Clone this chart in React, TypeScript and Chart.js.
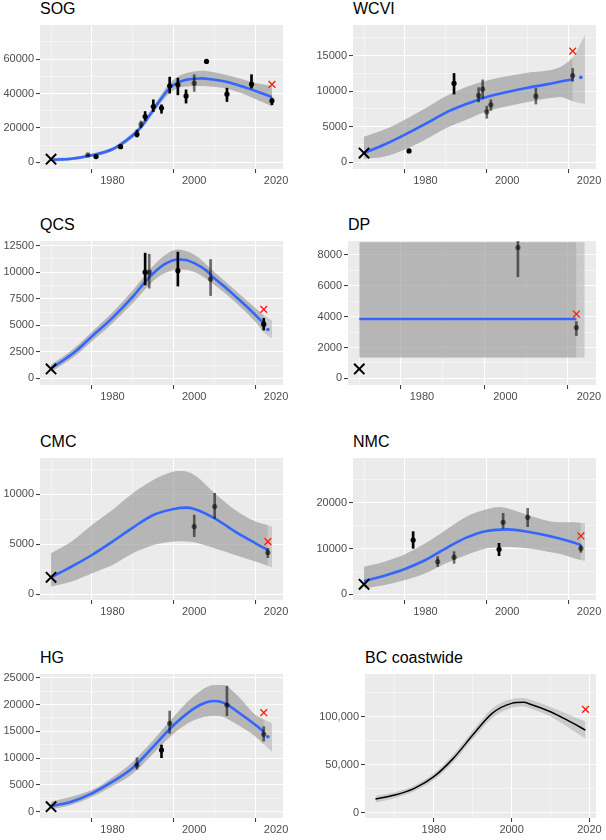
import React, { useEffect, useRef } from 'react';
import { Chart, registerables } from 'chart.js';

Chart.register(...registerables);

const FONT = '"Liberation Sans", Arial, Helvetica, sans-serif';
Chart.defaults.font.family = FONT;

const X_MIN = 1962.3;
const X_MAX = 2021.7;
const BLUE = '#3366FF';
const RIBBON = 'rgba(153,153,153,0.4)';
const DARK = '#000000';
const GREY = 'rgba(0,0,0,0.55)';

// ---------------- SOG ----------------
const sogFitYears = [1965, 1970, 1975, 1980, 1983, 1986, 1988, 1990, 1992, 1994, 1996, 1998, 2000, 2002, 2004, 2007, 2010, 2013, 2016, 2019];
const sogFit = [1500, 2100, 4100, 7600, 12000, 17900, 23700, 30500, 37300, 43100, 46400, 47900, 48600, 48800, 48300, 47200, 45400, 43100, 40600, 37900];
const sogBandLo = [500, 1200, 3200, 6600, 10700, 16300, 21900, 28500, 35000, 40300, 43200, 44000, 44400, 44400, 44000, 43300, 41400, 38800, 35600, 32600];
const sogBandHi = [2500, 3000, 5000, 8600, 13300, 19500, 25500, 32500, 39600, 45900, 49700, 51700, 52800, 53200, 52600, 51200, 49400, 47400, 45600, 44300];
const sogObsYears = [1974, 1976, 1982, 1986, 1987, 1988, 1990, 1992, 1994, 1996, 1998, 2000, 2003, 2008, 2014, 2019];
const sogObs = [4300, 3300, 9100, 16300, 22000, 26600, 32400, 31500, 44500, 45000, 38600, 46000, 58600, 39600, 45400, 35700];
const sogObsLo = [3800, 2900, 8500, 14700, 20000, 24300, 29500, 28500, 40200, 39200, 34400, 41200, 58200, 35300, 43100, 33400];
const sogObsHi = [4800, 3800, 10000, 18700, 24000, 29500, 36300, 33400, 49500, 48900, 42100, 50900, 59000, 43100, 50900, 37300];
const sogObsDark = [false, true, true, true, false, true, true, true, true, true, true, false, true, true, true, true];
const sogStart = [1965, 1800];
const sogRecent = [2019, 45300];

// ---------------- WCVI ----------------
const wcviFitYears = [1965, 1970, 1975, 1980, 1985, 1990, 1995, 2000, 2005, 2010, 2016];
const wcviFit = [1300, 2500, 3900, 5400, 7000, 8200, 9200, 9900, 10500, 11000, 11700];
const wcviBandYears = [1965, 1970, 1975, 1980, 1985, 1990, 1995, 2000, 2005, 2010, 2013, 2016, 2019];
const wcviBandLo = [500, 800, 1800, 3200, 4800, 6000, 7200, 7900, 8500, 9000, 9200, 8600, 8200];
const wcviBandHi = [3600, 4600, 6000, 7600, 9300, 10600, 11500, 12100, 12600, 12900, 13400, 14700, 17900];
const wcviObsYears = [1976, 1987, 1993, 1994, 1995, 1996, 2007, 2016];
const wcviObs = [1600, 11100, 9400, 10300, 7100, 8100, 9300, 12200];
const wcviObsLo = [1500, 9600, 8500, 9000, 6200, 7300, 8200, 11400];
const wcviObsHi = [1700, 12500, 10500, 11600, 7900, 8800, 10400, 13200];
const wcviObsDark = [true, true, false, false, false, false, false, false];
const wcviStart = [1965, 1300];
const wcviRecent = [2016, 15650];
const wcviDot = [2018, 11950];

// ---------------- QCS ----------------
const qcsFitYears = [1965, 1968, 1971, 1975, 1980, 1985, 1988, 1990, 1993, 1996, 1998, 2000, 2003, 2005, 2008, 2010, 2013, 2015, 2017];
const qcsFit = [940, 1700, 2550, 3950, 5700, 7700, 9100, 9900, 10800, 11200, 11150, 10850, 10150, 9400, 8450, 7750, 6700, 5950, 5150];
const qcsBandYears = [1965, 1968, 1971, 1975, 1980, 1985, 1990, 1993, 1996, 2000, 2005, 2010, 2015, 2017, 2019];
const qcsBandLo = [600, 1350, 2150, 3500, 5200, 7100, 9200, 9950, 10250, 10050, 8800, 7200, 5300, 4350, 3750];
const qcsBandHi = [1300, 2050, 2950, 4400, 6200, 8300, 10600, 11650, 12150, 11650, 10000, 8300, 6600, 5950, 5450];
const qcsObsYears = [1988, 1989, 1996, 2004, 2017];
const qcsObs = [10000, 10000, 10150, 9350, 5100];
const qcsObsLo = [8800, 8500, 8700, 7800, 4550];
const qcsObsHi = [11800, 11700, 11900, 11200, 5650];
const qcsObsDark = [true, false, true, false, true];
const qcsStart = [1965, 880];
const qcsRecent = [2017, 6500];
const qcsDot = [2018, 4600];

// ---------------- DP ----------------
const dpFitYears = [1965, 2017];
const dpFit = [3850, 3850];
const dpBandYears = [1965, 2017, 2019];
const dpBandLo = [1350, 1350, 1350];
const dpBandHi = [8820, 8820, 8820];
const dpObsYears = [2003, 2017];
const dpObs = [8480, 3290];
const dpObsLo = [6590, 2770];
const dpObsHi = [8950, 3680];
const dpObsDark = [false, false];
const dpStart = [1965, 605];
const dpRecent = [2017, 4170];

// ---------------- CMC ----------------
const cmcFitYears = [1965, 1970, 1975, 1980, 1985, 1990, 1995, 1998, 2000, 2005, 2010, 2015, 2018];
const cmcFit = [1700, 2770, 3930, 5270, 6670, 7930, 8530, 8670, 8530, 7600, 6270, 5100, 4430];
const cmcBandYears = [1965, 1970, 1975, 1980, 1985, 1990, 1995, 1997, 2000, 2005, 2010, 2015, 2018, 2019];
const cmcBandLo = [770, 1270, 2100, 2930, 4100, 4930, 5270, 5300, 5200, 4600, 3930, 3270, 2850, 2670];
const cmcBandHi = [4100, 5270, 6930, 8430, 10100, 11430, 12270, 12330, 11930, 10100, 8430, 7270, 6900, 6770];
const cmcObsYears = [2000, 2005, 2018];
const cmcObs = [6770, 8770, 4170];
const cmcObsLo = [5770, 7600, 3670];
const cmcObsHi = [7930, 10100, 4600];
const cmcObsDark = [false, false, false];
const cmcStart = [1965, 1700];
const cmcRecent = [2018, 5270];

// ---------------- NMC ----------------
const nmcFitYears = [1965, 1970, 1975, 1980, 1985, 1990, 1995, 2000, 2005, 2010, 2015, 2018];
const nmcFit = [2900, 4070, 5530, 7490, 10040, 12360, 13820, 14180, 13670, 12800, 11640, 10760];
const nmcBandYears = [1965, 1970, 1975, 1980, 1985, 1990, 1995, 1998, 2000, 2005, 2010, 2013, 2016, 2018, 2019];
const nmcBandLo = [1310, 2040, 3130, 4580, 6760, 8580, 10040, 10300, 10400, 10040, 9310, 8800, 8000, 7500, 7300];
const nmcBandHi = [6040, 7130, 8730, 11130, 14040, 16950, 18550, 19050, 18760, 17310, 16000, 15710, 15710, 15550, 15490];
const nmcObsYears = [1977, 1983, 1987, 1998, 1999, 2005, 2018];
const nmcObs = [11850, 7130, 8070, 9820, 15710, 16800, 10040];
const nmcObsLo = [10040, 6040, 6760, 8440, 14400, 14760, 9160];
const nmcObsHi = [13670, 8220, 9310, 11130, 17670, 18760, 10760];
const nmcObsDark = [true, false, false, true, false, false, false];
const nmcStart = [1965, 2180];
const nmcRecent = [2018, 12730];

// ---------------- HG ----------------
const hgFitYears = [1965, 1970, 1975, 1980, 1985, 1990, 1995, 2000, 2003, 2005, 2008, 2010, 2015, 2017];
const hgFit = [1060, 1870, 3420, 5600, 8210, 12130, 16170, 19280, 20400, 20650, 20030, 18970, 16170, 14930];
const hgBandYears = [1965, 1970, 1975, 1980, 1985, 1990, 1995, 2000, 2005, 2007, 2010, 2015, 2017, 2019];
const hgBandLo = [435, 1300, 2800, 4800, 7150, 10880, 14610, 17100, 17910, 17700, 16480, 13990, 12600, 11190];
const hgBandHi = [1870, 2800, 4040, 6400, 9330, 13370, 17720, 21640, 23630, 23630, 22080, 18030, 17200, 16480];
const hgObsYears = [1986, 1992, 1994, 2008, 2017];
const hgObs = [8700, 11500, 16480, 19900, 14430];
const hgObsLo = [7900, 10070, 14610, 17910, 13180];
const hgObsHi = [10070, 12440, 18780, 23440, 15860];
const hgObsDark = [false, true, false, false, false];
const hgStart = [1965, 930];
const hgRecent = [2017, 18470];
const hgDot = [2018, 13990];

// ---------------- BC coastwide ----------------
const bcFitYears = [1965, 1970, 1975, 1980, 1985, 1990, 1995, 2000, 2003, 2005, 2010, 2015, 2019];
const bcFit = [14240, 18400, 25350, 37500, 56600, 80900, 103500, 113900, 115000, 112800, 105200, 94800, 86100];
const bcBandLo = [10740, 15400, 22350, 34000, 52600, 76400, 98500, 109400, 110500, 108300, 100200, 87800, 77100];
const bcBandHi = [17740, 21400, 28350, 41000, 60600, 85400, 108500, 118400, 119500, 117300, 110200, 101800, 95100];
const bcRecent = [2019, 107600];

type Panel = {
  title: string;
  col: number;
  plotLeft: number; plotRight: number; plotTop: number; plotBottom: number;
  yMin: number; yMax: number; yMajor: number; yMinor: number; comma: boolean;
  fitYears: number[]; fit: number[]; lineColor: string; lineWidth: number;
  bandYears: number[]; bandLo: number[]; bandHi: number[]; doubleBand: boolean;
  obsYears: number[]; obs: number[]; obsLo: number[]; obsHi: number[]; obsDark: boolean[];
  start: number[] | null; recent: number[]; dot: number[] | null;
};

const panels: Panel[] = [
  { title: 'SOG', col: 0, plotLeft: 40, plotRight: 283, plotTop: 25, plotBottom: 169,
    yMin: -3900, yMax: 79800, yMajor: 20000, yMinor: 10000, comma: false,
    fitYears: sogFitYears, fit: sogFit, lineColor: BLUE, lineWidth: 2.6,
    bandYears: sogFitYears, bandLo: sogBandLo, bandHi: sogBandHi, doubleBand: true,
    obsYears: sogObsYears, obs: sogObs, obsLo: sogObsLo, obsHi: sogObsHi, obsDark: sogObsDark,
    start: sogStart, recent: sogRecent, dot: null },
  { title: 'WCVI', col: 1, plotLeft: 353, plotRight: 596, plotTop: 25, plotBottom: 169,
    yMin: -943, yMax: 19320, yMajor: 5000, yMinor: 2500, comma: false,
    fitYears: wcviFitYears, fit: wcviFit, lineColor: BLUE, lineWidth: 2.6,
    bandYears: wcviBandYears, bandLo: wcviBandLo, bandHi: wcviBandHi, doubleBand: true,
    obsYears: wcviObsYears, obs: wcviObs, obsLo: wcviObsLo, obsHi: wcviObsHi, obsDark: wcviObsDark,
    start: wcviStart, recent: wcviRecent, dot: wcviDot },
  { title: 'QCS', col: 0, plotLeft: 40, plotRight: 283, plotTop: 241, plotBottom: 385,
    yMin: -631, yMax: 12943, yMajor: 2500, yMinor: 1250, comma: false,
    fitYears: qcsFitYears, fit: qcsFit, lineColor: BLUE, lineWidth: 2.6,
    bandYears: qcsBandYears, bandLo: qcsBandLo, bandHi: qcsBandHi, doubleBand: true,
    obsYears: qcsObsYears, obs: qcsObs, obsLo: qcsObsLo, obsHi: qcsObsHi, obsDark: qcsObsDark,
    start: qcsStart, recent: qcsRecent, dot: qcsDot },
  { title: 'DP', col: 1, plotLeft: 348, plotRight: 596, plotTop: 241, plotBottom: 385,
    yMin: -435, yMax: 8908, yMajor: 2000, yMinor: 1000, comma: false,
    fitYears: dpFitYears, fit: dpFit, lineColor: BLUE, lineWidth: 2.6,
    bandYears: dpBandYears, bandLo: dpBandLo, bandHi: dpBandHi, doubleBand: true,
    obsYears: dpObsYears, obs: dpObs, obsLo: dpObsLo, obsHi: dpObsHi, obsDark: dpObsDark,
    start: dpStart, recent: dpRecent, dot: null },
  { title: 'CMC', col: 0, plotLeft: 40, plotRight: 283, plotTop: 458, plotBottom: 600,
    yMin: -570, yMax: 13630, yMajor: 5000, yMinor: 2500, comma: false,
    fitYears: cmcFitYears, fit: cmcFit, lineColor: BLUE, lineWidth: 2.6,
    bandYears: cmcBandYears, bandLo: cmcBandLo, bandHi: cmcBandHi, doubleBand: true,
    obsYears: cmcObsYears, obs: cmcObs, obsLo: cmcObsLo, obsHi: cmcObsHi, obsDark: cmcObsDark,
    start: cmcStart, recent: cmcRecent, dot: null },
  { title: 'NMC', col: 1, plotLeft: 353, plotRight: 596, plotTop: 458, plotBottom: 600,
    yMin: -1244, yMax: 29750, yMajor: 10000, yMinor: 5000, comma: false,
    fitYears: nmcFitYears, fit: nmcFit, lineColor: BLUE, lineWidth: 2.6,
    bandYears: nmcBandYears, bandLo: nmcBandLo, bandHi: nmcBandHi, doubleBand: true,
    obsYears: nmcObsYears, obs: nmcObs, obsLo: nmcObsLo, obsHi: nmcObsHi, obsDark: nmcObsDark,
    start: nmcStart, recent: nmcRecent, dot: null },
  { title: 'HG', col: 0, plotLeft: 40, plotRight: 283, plotTop: 674, plotBottom: 818,
    yMin: -1175, yMax: 25690, yMajor: 5000, yMinor: 2500, comma: false,
    fitYears: hgFitYears, fit: hgFit, lineColor: BLUE, lineWidth: 2.6,
    bandYears: hgBandYears, bandLo: hgBandLo, bandHi: hgBandHi, doubleBand: true,
    obsYears: hgObsYears, obs: hgObs, obsLo: hgObsLo, obsHi: hgObsHi, obsDark: hgObsDark,
    start: hgStart, recent: hgRecent, dot: hgDot },
  { title: 'BC coastwide', col: 1, plotLeft: 365, plotRight: 596, plotTop: 674, plotBottom: 818,
    yMin: -5520, yMax: 144480, yMajor: 50000, yMinor: 25000, comma: true,
    fitYears: bcFitYears, fit: bcFit, lineColor: '#000000', lineWidth: 1.5,
    bandYears: bcFitYears, bandLo: bcBandLo, bandHi: bcBandHi, doubleBand: false,
    obsYears: [], obs: [], obsLo: [], obsHi: [], obsDark: [],
    start: null, recent: bcRecent, dot: null },
];

function makeTicks(min: number, max: number, step: number) {
  const out: number[] = [];
  for (let k = Math.ceil(min / step); k * step <= max + 1e-9; k++) out.push(k * step === 0 ? 0 : k * step);
  return out;
}
function isMajor(v: number, step: number) {
  const r = v / step;
  return Math.abs(r - Math.round(r)) < 1e-6;
}

const bgPlugin = {
  id: 'panelBg',
  beforeDraw(chart: any) {
    const { ctx, chartArea: a } = chart;
    ctx.save();
    ctx.fillStyle = '#EBEBEB';
    ctx.fillRect(a.left, a.top, a.right - a.left, a.bottom - a.top);
    ctx.restore();
  },
};

function gridOpts(major: number) {
  const m = (c: any) => !!c.tick && isMajor(c.tick.value, major);
  return {
    drawTicks: true,
    tickLength: 4,
    color: (c: any) => (m(c) ? '#FFFFFF' : 'rgba(255,255,255,0.85)'),
    lineWidth: (c: any) => (m(c) ? 1.1 : 0.55),
    tickColor: (c: any) => (m(c) ? '#333333' : 'rgba(0,0,0,0)'),
    tickWidth: (c: any) => (m(c) ? 1 : 0),
  };
}

function buildConfig(p: Panel, left: number): any {
  const xy = (xs: number[], ys: number[]) => xs.map((x, i) => ({ x, y: ys[i] }));
  const datasets: any[] = [];
  const band = (xs: number[], lo: number[], hi: number[], order: number) => [
    { type: 'line', data: xy(xs, lo), borderColor: 'rgba(0,0,0,0)', borderWidth: 0, pointRadius: 0, fill: false, cubicInterpolationMode: 'monotone', order },
    { type: 'line', data: xy(xs, hi), borderColor: 'rgba(0,0,0,0)', borderWidth: 0, pointRadius: 0, fill: '-1', backgroundColor: RIBBON, cubicInterpolationMode: 'monotone', order: order - 1 },
  ];
  datasets.push(...band(p.bandYears, p.bandLo, p.bandHi, 40));
  if (p.doubleBand) {
    const end = p.fitYears[p.fitYears.length - 1];
    const keep = p.bandYears.map((_, i) => i).filter((i) => p.bandYears[i] <= end + 1e-9);
    datasets.push(...band(keep.map((i) => p.bandYears[i]), keep.map((i) => p.bandLo[i]), keep.map((i) => p.bandHi[i]), 30));
  }
  datasets.push({ type: 'line', data: xy(p.fitYears, p.fit), borderColor: p.lineColor, borderWidth: p.lineWidth, pointRadius: 0, fill: false, cubicInterpolationMode: 'monotone', order: 20 });
  if (p.obsYears.length) {
    const cols = p.obsDark.map((d) => (d ? DARK : GREY));
    datasets.push({ type: 'bar', data: p.obsYears.map((x, i) => ({ x, y: [p.obsLo[i], p.obsHi[i]] })), backgroundColor: cols, borderWidth: 0, barThickness: 2, order: 15 });
    datasets.push({ type: 'line', showLine: false, data: xy(p.obsYears, p.obs), pointRadius: 2.6, pointBackgroundColor: cols, pointBorderWidth: 0, order: 14 });
  }
  if (p.dot) datasets.push({ type: 'line', showLine: false, data: [{ x: p.dot[0], y: p.dot[1] }], pointRadius: 1.8, pointBackgroundColor: BLUE, pointBorderWidth: 0, order: 12 });
  if (p.start) datasets.push({ type: 'line', showLine: false, data: [{ x: p.start[0], y: p.start[1] }], pointStyle: 'crossRot', pointRadius: 7.3, pointBorderColor: '#000000', pointBorderWidth: 2, order: 11 });
  datasets.push({ type: 'line', showLine: false, data: [{ x: p.recent[0], y: p.recent[1] }], pointStyle: 'crossRot', pointRadius: 4.8, pointBorderColor: '#FF1A0A', pointBorderWidth: 1.3, order: 10 });

  const tickFont = { family: FONT, size: 11 };
  return {
    type: 'line',
    data: { datasets },
    plugins: [bgPlugin],
    options: {
      responsive: false,
      maintainAspectRatio: false,
      animation: false,
      events: [],
      layout: { padding: { left: 0, right: 10, top: 12, bottom: 0 } },
      plugins: { legend: { display: false }, tooltip: { enabled: false }, title: { display: false } },
      scales: {
        x: {
          type: 'linear', min: X_MIN, max: X_MAX, offset: false,
          afterBuildTicks: (s: any) => { s.ticks = makeTicks(X_MIN, X_MAX, 10).map((v) => ({ value: v })); },
          afterFit: (s: any) => { s.height = 22; },
          ticks: { autoSkip: false, maxRotation: 0, minRotation: 0, padding: 1, color: '#4D4D4D', font: tickFont,
            callback: (v: any) => (isMajor(v, 20) ? String(v) : '') },
          grid: gridOpts(20),
          border: { display: false },
        },
        y: {
          type: 'linear', min: p.yMin, max: p.yMax,
          afterBuildTicks: (s: any) => { s.ticks = makeTicks(p.yMin, p.yMax, p.yMinor).map((v) => ({ value: v })); },
          afterFit: (s: any) => { s.width = p.plotLeft - left; },
          ticks: { autoSkip: false, padding: 2, color: '#4D4D4D', font: tickFont,
            callback: (v: any) => (isMajor(v, p.yMajor) ? (p.comma ? Number(v).toLocaleString('en-US') : String(v)) : '') },
          grid: gridOpts(p.yMajor),
          border: { display: false },
        },
      },
    },
  };
}

function PanelChart({ p }: { p: Panel }) {
  const ref = useRef<HTMLCanvasElement>(null);
  const left = p.col === 0 ? 0 : 303;
  const canvasTop = p.plotTop - 12;
  const w = p.plotRight + 10 - left;
  const h = p.plotBottom + 22 - canvasTop;
  useEffect(() => {
    if (!ref.current) return;
    const chart = new Chart(ref.current, buildConfig(p, left));
    return () => chart.destroy();
  }, []);
  return (
    <>
      <div style={{ position: 'absolute', left: p.plotLeft, top: p.plotTop - 24, font: `16px ${FONT}`, lineHeight: '16px', color: '#000', whiteSpace: 'nowrap' }}>
        {p.title}
      </div>
      <canvas ref={ref} width={w} height={h} style={{ position: 'absolute', left, top: canvasTop, width: w, height: h }} />
    </>
  );
}

export default function App() {
  return (
    <div style={{ position: 'absolute', left: 0, top: 0, width: 606, height: 840, background: '#FFFFFF', overflow: 'hidden' }}>
      {panels.map((p) => (
        <PanelChart key={p.title} p={p} />
      ))}
    </div>
  );
}
